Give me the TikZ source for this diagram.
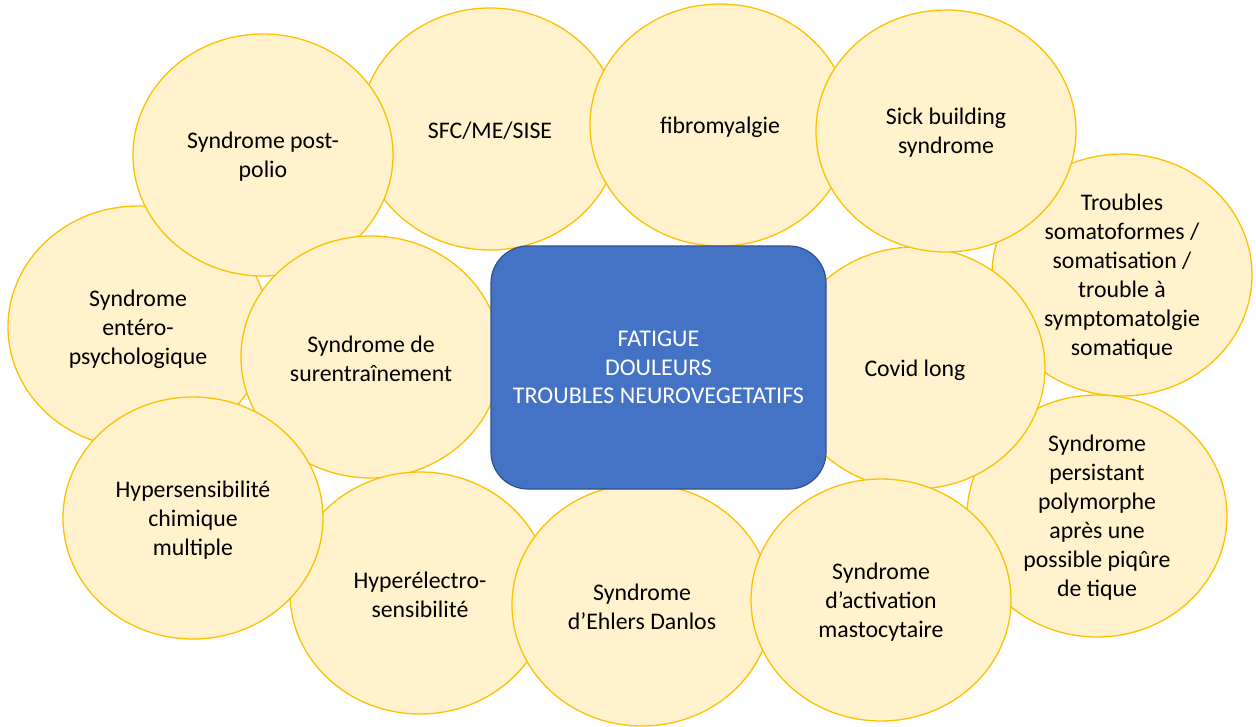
\documentclass[tikz,border=0pt]{standalone}
\usepackage{fontspec}
\setmainfont{Carlito}
\usetikzlibrary{shapes.geometric}
\definecolor{bubfill}{HTML}{FFF2CC}
\definecolor{bubline}{HTML}{FFC000}
\definecolor{ctrfill}{HTML}{4472C4}
\definecolor{ctrline}{HTML}{2F528F}
\begin{document}
\begin{tikzpicture}[x=1pt,y=-1pt,
  bub/.style={ellipse, draw=bubline, fill=bubfill, line width=1.3pt,
    minimum width=260pt, minimum height=242pt, inner sep=0pt},
  lbl/.style={align=center, font=\fontsize{23.8}{29}\selectfont, text=black, inner sep=0pt, yshift=-2pt},
  ctr/.style={draw=ctrline, fill=ctrfill, line width=1.2pt, rounded corners=37pt,
    minimum width=335pt, minimum height=243pt, inner sep=0pt, align=center,
    text=white, font=\fontsize{24}{28.5}\selectfont}]
\useasboundingbox (0,0) rectangle (1256,726);

\node[bub] (entero) at (138,327) {};
\node[lbl] (enteroT) at (entero.center) {Syndrome\\entéro-\\psychologique};

\node[bub] (sfc) at (490,129) {};
\node[lbl] (sfcT) at (sfc.center) {SFC/ME/SISE};

\node[bub] (polio) at (263,155) {};
\node[lbl] (polioT) at (polio.center) {Syndrome post-\\polio};

\node[bub] (suren) at (371,357) {};
\node[lbl] (surenT) at (suren.center) {Syndrome de\\surentraînement};

\node[bub] (hyperel) at (420,593) {};
\node[lbl] (hyperelT) at (hyperel.center) {Hyperélectro-\\sensibilité};

\node[bub] (hypersens) at (193,518) {};
\node[lbl] (hypersensT) at (hypersens.center) {Hypersensibilité\\chimique\\multiple};

\node[bub] (somato) at (1122,275) {};
\node[lbl] (somatoT) at (somato.center) {Troubles\\somatoformes /\\somatisation /\\trouble à\\symptomatolgie\\somatique};

\node[bub] (tique) at (1097,516) {};
\node[lbl] (tiqueT) at (tique.center) {Syndrome\\persistant\\polymorphe\\après une\\possible piqûre\\de tique};

\node[bub] (covid) at (915,368) {};
\node[lbl] (covidT) at (covid.center) {Covid long};

\node[bub] (fibro) at (720,125) {};
\node[lbl] (fibroT) at (fibro.center) {fibromyalgie};

\node[bub] (sick) at (946,131) {};
\node[lbl] (sickT) at (sick.center) {Sick building\\syndrome};

\node[bub] (ehlers) at (642,605) {};
\node[lbl] (ehlersT) at (ehlers.center) {Syndrome\\d’Ehlers Danlos};

\node[bub] (masto) at (881,600) {};
\node[lbl] (mastoT) at (masto.center) {Syndrome\\d’activation\\mastocytaire};

\node[ctr] (center) at (658.5,367.5) {FATIGUE\\DOULEURS\\TROUBLES NEUROVEGETATIFS};
\end{tikzpicture}
\end{document}
